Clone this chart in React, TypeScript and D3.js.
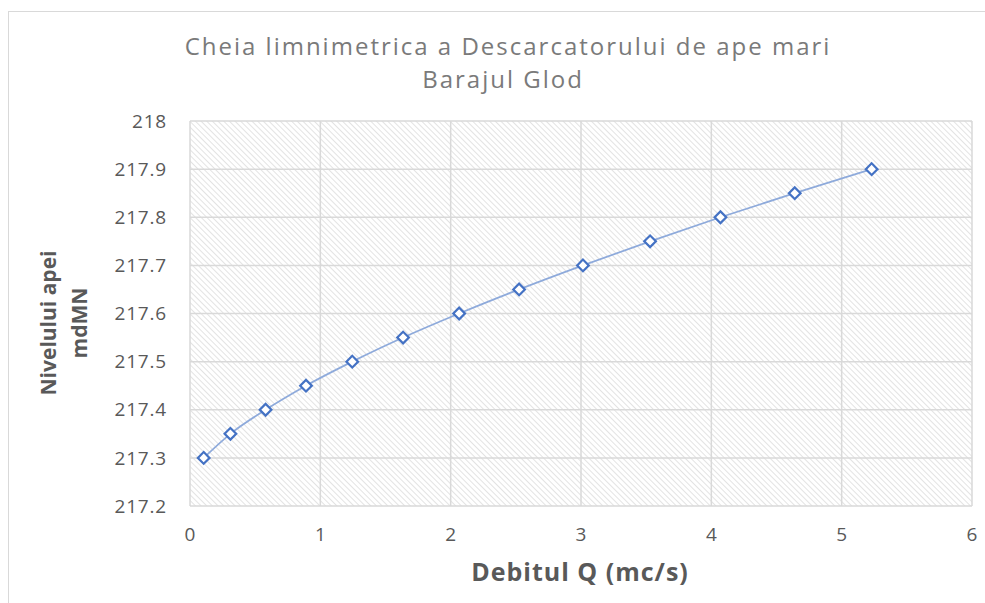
import React, { useRef, useEffect } from "react";
import * as d3 from "d3";

// debitul Q (mc/s) si nivelul apei (mdMN)
const debit = [0.105, 0.31, 0.58, 0.89, 1.245, 1.635, 2.065, 2.525, 3.015, 3.53, 4.07, 4.64, 5.23];
const nivel = [217.3, 217.35, 217.4, 217.45, 217.5, 217.55, 217.6, 217.65, 217.7, 217.75, 217.8, 217.85, 217.9];
const xTicks = [0, 1, 2, 3, 4, 5, 6];
const yTicks = [217.2, 217.3, 217.4, 217.5, 217.6, 217.7, 217.8, 217.9, 218];

const W = 985;
const H = 603;
const margin = { top: 121, right: 13, bottom: 97, left: 190 };
const FONT = "'Open Sans', sans-serif";

const App = () => {
  const ref = useRef<SVGSVGElement>(null);

  useEffect(() => {
    const svg = d3.select(ref.current);
    svg.selectAll("*").remove();

    const x = d3.scaleLinear().domain([0, 6]).range([margin.left, W - margin.right]);
    const y = d3.scaleLinear().domain([217.2, 218]).range([H - margin.bottom, margin.top]);

    // hasura de fundal
    const defs = svg.append("defs");
    const pat = defs
      .append("pattern")
      .attr("id", "hatch")
      .attr("patternUnits", "userSpaceOnUse")
      .attr("width", 4)
      .attr("height", 4)
      .attr("patternTransform", "rotate(-45)");
    pat.append("rect").attr("width", 4).attr("height", 4).attr("fill", "#fff");
    pat
      .append("line")
      .attr("x1", 0).attr("y1", 0).attr("x2", 0).attr("y2", 4)
      .attr("stroke", "#dcdcdc")
      .attr("stroke-width", 1.6);

    // chenar
    svg
      .append("rect")
      .attr("x", 8.5).attr("y", 11.5)
      .attr("width", W + 20).attr("height", H + 20)
      .attr("fill", "none")
      .attr("stroke", "#d9d9d9");

    svg
      .append("rect")
      .attr("x", x(0)).attr("y", y(218))
      .attr("width", x(6) - x(0)).attr("height", y(217.2) - y(218))
      .attr("fill", "url(#hatch)");

    // grila
    const grid = svg.append("g").attr("stroke", "#d9d9d9").attr("stroke-width", 1.5);
    grid.selectAll("line.v").data(xTicks).join("line")
      .attr("x1", (d) => x(d)).attr("x2", (d) => x(d))
      .attr("y1", y(218)).attr("y2", y(217.2));
    grid.selectAll("line.h").data(yTicks).join("line")
      .attr("x1", x(0)).attr("x2", x(6))
      .attr("y1", (d) => y(d)).attr("y2", (d) => y(d));

    // etichete axe
    svg.append("g")
      .attr("font-family", FONT).attr("font-size", 19).attr("fill", "#595959")
      .attr("text-anchor", "end").attr("letter-spacing", 0.8)
      .selectAll("text").data(yTicks).join("text")
      .attr("x", 167).attr("y", (d) => y(d)).attr("dy", "0.35em")
      .text((d) => d3.format("")(+d.toFixed(1)));

    svg.append("g")
      .attr("font-family", FONT).attr("font-size", 19).attr("fill", "#595959")
      .attr("text-anchor", "middle")
      .selectAll("text").data(xTicks).join("text")
      .attr("x", (d) => x(d)).attr("y", 534).attr("dy", "0.35em")
      .text((d) => d);

    // linia
    const pts = debit.map((d, i) => [d, nivel[i]] as [number, number]);
    svg.append("path")
      .datum(pts)
      .attr("fill", "none")
      .attr("stroke", "#8eaadb")
      .attr("stroke-width", 1.75)
      .attr("d", d3.line().x((d) => x(d[0])).y((d) => y(d[1])).curve(d3.curveMonotoneX));

    svg.append("g")
      .selectAll("path").data(pts).join("path")
      .attr("d", d3.symbol(d3.symbolSquare, 68)())
      .attr("transform", (d) => `translate(${x(d[0])},${y(d[1])}) rotate(45)`)
      .attr("fill", "#fff")
      .attr("stroke", "#4472c4")
      .attr("stroke-width", 2.2);

    // titlu
    const title = svg.append("g")
      .attr("font-family", FONT).attr("font-size", 24).attr("fill", "#7a7a7a")
      .attr("text-anchor", "middle").attr("letter-spacing", 2);
    title.append("text").attr("x", 508).attr("y", 55).text("Cheia limnimetrica a Descarcatorului de ape mari");
    title.append("text").attr("x", 503).attr("y", 88).text("Barajul Glod");

    svg.append("text")
      .attr("x", 580).attr("y", 581)
      .attr("font-family", FONT).attr("font-size", 25).attr("font-weight", "bold")
      .attr("fill", "#595959").attr("text-anchor", "middle").attr("letter-spacing", 1)
      .text("Debitul Q (mc/s)");

    const yt = svg.append("text")
      .attr("transform", "translate(61,323) rotate(-90)")
      .attr("font-family", FONT).attr("font-size", 21).attr("font-weight", "bold")
      .attr("fill", "#595959").attr("text-anchor", "middle");
    yt.append("tspan").attr("x", 0).attr("dy", "-0.25em").text("Nivelului apei");
    yt.append("tspan").attr("x", 0).attr("dy", "1.5em").text("mdMN");
  }, []);

  return (
    <svg
      ref={ref}
      width={W}
      height={H}
      style={{ position: "absolute", left: 0, top: 0, background: "#fff" }}
    />
  );
};

export default App;
